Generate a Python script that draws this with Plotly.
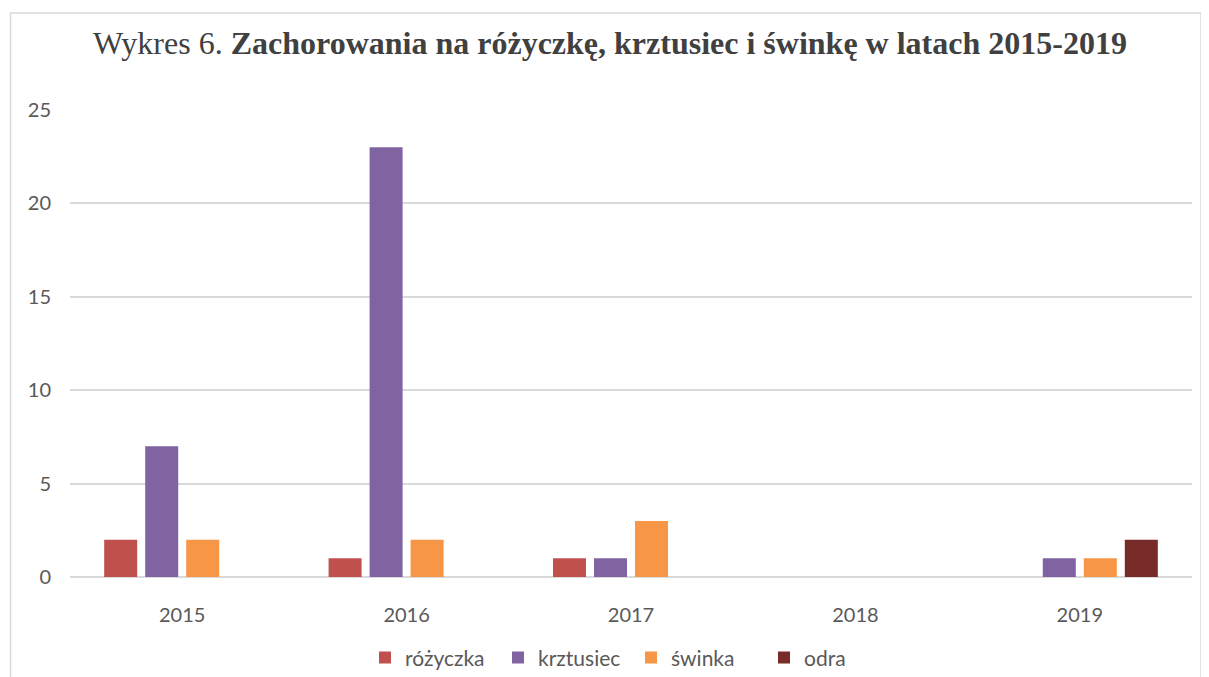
import plotly.graph_objects as go

years = ["2015", "2016", "2017", "2018", "2019"]
rozyczka = [2, 1, 1, 0, 0]
krztusiec = [7, 23, 1, 0, 1]
swinka = [2, 2, 3, 0, 1]
odra = [0, 0, 0, 0, 2]

series = [
    ("różyczka", rozyczka, "#C0504D"),
    ("krztusiec", krztusiec, "#8064A2"),
    ("świnka", swinka, "#F79646"),
    ("odra", odra, "#772C2A"),
]

W, H = 1209, 677
OFF = 8  # page body margin offset
L = 70 - OFF
T = 109.5 - OFF
R = W - (1192 - OFF)
B = H - (577 - OFF)

fig = go.Figure()
for name, vals, col in series:
    fig.add_trace(go.Bar(x=years, y=vals, name=name, marker=dict(color=col, line=dict(width=0))))

pw = W - L - R
ph = H - T - B

def px2paper_x(px):
    return (px - OFF - L) / pw

def py2paper_y(py):
    return (H - B - (py - OFF)) / ph

fig.update_layout(
    width=W, height=H,
    margin=dict(l=L, r=R, t=T, b=B, autoexpand=False),
    paper_bgcolor="white", plot_bgcolor="white",
    barmode="group", bargap=0.269, bargroupgap=0.195,
    title=dict(
        text="Wykres 6. <b>Zachorowania na różyczkę, krztusiec i świnkę w latach 2015-2019</b>",
        x=(610 - OFF) / W, xanchor="center", xref="container",
        y=1 - (43 - OFF) / H, yanchor="middle", yref="container",
        font=dict(family="Liberation Serif, Times New Roman, serif", size=32, color="#404040"),
        automargin=False,
    ),
    xaxis=dict(
        type="category", showgrid=False, showline=False, zeroline=False, ticks="",
        tickfont=dict(family="Lato, Carlito, sans-serif", size=20, color="#595959"),
        ticklabelstandoff=24, automargin=False,
    ),
    yaxis=dict(
        range=[0, 25], dtick=5, tick0=0, showgrid=True, gridcolor="#D9D9D9", gridwidth=1.5,
        zeroline=True, zerolinecolor="#D9D9D9", zerolinewidth=2, showline=False, ticks="",
        tickfont=dict(family="Lato, Carlito, sans-serif", size=20, color="#595959"),
        ticklabelstandoff=18, automargin=False,
    ),
    legend=dict(
        orientation="h", x=px2paper_x(365), xanchor="left", y=py2paper_y(658), yanchor="middle",
        font=dict(family="Lato, Carlito, sans-serif", size=21, color="#595959"),
        traceorder="normal", entrywidth=88, entrywidthmode="pixels",
    ),
    showlegend=True,
)

fig.add_shape(
    type="rect", xref="paper", yref="paper",
    x0=px2paper_x(10.5), x1=px2paper_x(1201), y0=py2paper_y(700), y1=py2paper_y(12.5),
    line=dict(color="#D9D9D9", width=1.5), fillcolor="rgba(0,0,0,0)", layer="below",
)

fig.write_html("out.html")
